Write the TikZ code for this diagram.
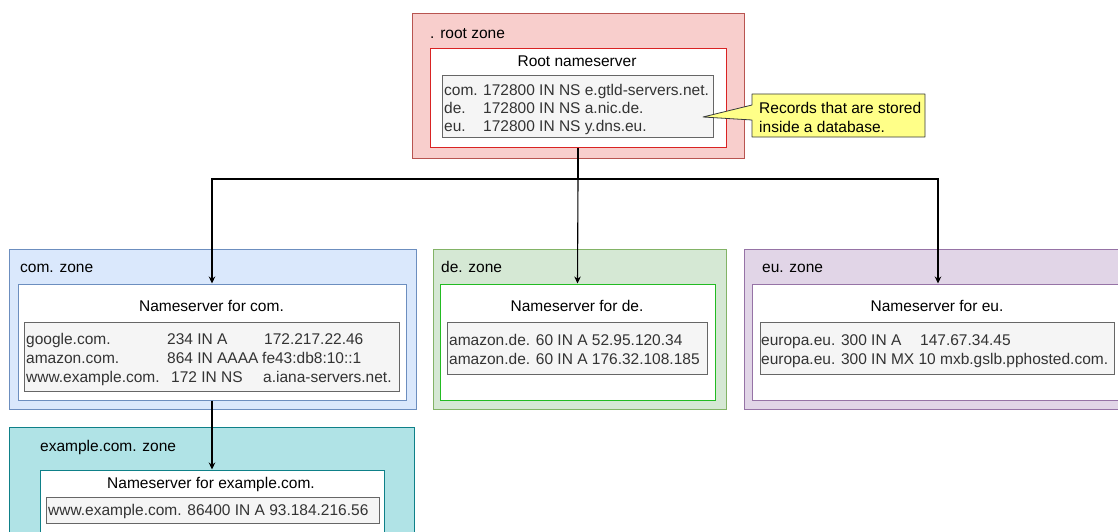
\documentclass[tikz,border=0pt]{standalone}
\usepackage{fontspec}
\setmainfont{Liberation Sans}
\usetikzlibrary{arrows.meta}
\definecolor{rootfill}{HTML}{F8CECC}
\definecolor{rootline}{HTML}{B85450}
\definecolor{rootns}{HTML}{D92323}
\definecolor{comfill}{HTML}{DAE8FC}
\definecolor{comline}{HTML}{6C8EBF}
\definecolor{defill}{HTML}{D5E8D4}
\definecolor{deline}{HTML}{82B366}
\definecolor{dens}{HTML}{22BB22}
\definecolor{eufill}{HTML}{E1D5E7}
\definecolor{euline}{HTML}{9673A6}
\definecolor{exfill}{HTML}{B0E3E6}
\definecolor{exline}{HTML}{0E8088}
\definecolor{recfill}{HTML}{F5F5F5}
\definecolor{recline}{HTML}{666666}
\definecolor{rectext}{HTML}{333333}
\definecolor{notefill}{HTML}{FFFF88}
\definecolor{noteline}{HTML}{36393D}
\begin{document}
\begin{tikzpicture}[x=1pt,y=-1pt,
  box/.style={draw, rectangle, inner sep=0pt, line width=1pt},
  txt/.style={inner sep=0pt, font=\fontsize{15.5}{18.6}\selectfont},
  rec/.style={txt, text=rectext, anchor=base west},
  lbl/.style={txt, anchor=base west},
  ttl/.style={txt, anchor=base},
  arr/.style={line width=1.1pt, -{Stealth[length=7pt,width=6.5pt]}},
  conn/.style={line width=1.1pt}]
\useasboundingbox (0,0) rectangle (1118,532);
\clip (0,0) rectangle (1118,532);
% root zone
\node[box, draw=rootline, fill=rootfill, minimum width=332pt, minimum height=144pt] (rootzone) at (578,86) {};
\node[lbl] (rootlbl) at (430,38.5) {. root zone};
\node[box, draw=rootns, fill=white, minimum width=296pt, minimum height=98pt] (rootns) at (578,98) {};
\node[ttl] (roottitle) at (577,67) {Root nameserver};
\node[box, draw=recline, fill=recfill, minimum width=271pt, minimum height=61pt] (rootrec) at (577.5,106.5) {};
\node[rec] (r1a) at (444,95.5) {com.};
\node[rec] (r1b) at (483,95.5) {172800 IN NS e.gtld-servers.net.};
\node[rec] (r2a) at (444,113.5) {de.};
\node[rec] (r2b) at (483,113.5) {172800 IN NS a.nic.de.};
\node[rec] (r3a) at (444,131.5) {eu.};
\node[rec] (r3b) at (483,131.5) {172800 IN NS y.dns.eu.};
% callout
\draw[draw=noteline, fill=notefill, line width=0.8pt, line join=round]
  (752,94) -- (925,94) -- (925,137) -- (752,137) -- (752,120) -- (703,117) -- (752,105) -- cycle;
\node[lbl] (note1) at (759,113.5) {Records that are stored};
\node[lbl] (note2) at (759,132.5) {inside a database.};
% com zone
\node[box, draw=comline, fill=comfill, minimum width=407pt, minimum height=160pt] (comzone) at (212.5,329) {};
\node[lbl] (comlbl) at (20,272) {com. zone};
\node[box, draw=comline, fill=white, minimum width=388pt, minimum height=116pt] (comns) at (212,342) {};
\node[ttl] (comtitle) at (211.5,311) {Nameserver for com.};
\node[box, draw=recline, fill=recfill, minimum width=375pt, minimum height=69pt] (comrec) at (211.5,356.5) {};
\node[rec] (c1a) at (26,344.5) {google.com.};
\node[rec] (c1b) at (167,344.5) {234 IN A};
\node[rec] (c1c) at (264,344.5) {172.217.22.46};
\node[rec] (c2a) at (26,363.5) {amazon.com.};
\node[rec] (c2b) at (167,363.5) {864 IN AAAA};
\node[rec] (c2c) at (262,363.5) {fe43:db8:10::1};
\node[rec] (c3a) at (26,382.5) {www.example.com.};
\node[rec] (c3b) at (171,382.5) {172 IN NS};
\node[rec] (c3c) at (263,382.5) {a.iana-servers.net.};
% de zone
\node[box, draw=deline, fill=defill, minimum width=293pt, minimum height=160pt] (dezone) at (579.5,329) {};
\node[lbl] (delbl) at (441,272) {de. zone};
\node[box, draw=dens, fill=white, minimum width=275pt, minimum height=116pt] (dens) at (577.5,342) {};
\node[ttl] (detitle) at (577,311) {Nameserver for de.};
\node[box, draw=recline, fill=recfill, minimum width=260pt, minimum height=52pt] (derec) at (577,348) {};
\node[rec] (d1) at (449,345) {amazon.de. 60 IN A 52.95.120.34};
\node[rec] (d2) at (449,364) {amazon.de. 60 IN A 176.32.108.185};
% eu zone
\node[box, draw=euline, fill=eufill, minimum width=388pt, minimum height=160pt] (euzone) at (938,329) {};
\node[lbl] (eulbl) at (762,272) {eu. zone};
\node[box, draw=euline, fill=white, minimum width=372pt, minimum height=116pt] (euns) at (938,342) {};
\node[ttl] (eutitle) at (937,311) {Nameserver for eu.};
\node[box, draw=recline, fill=recfill, minimum width=354pt, minimum height=52pt] (eurec) at (937,348) {};
\node[rec] (e1a) at (761,345) {europa.eu. 300 IN A};
\node[rec] (e1b) at (920,345) {147.67.34.45};
\node[rec] (e2) at (761,364) {europa.eu. 300 IN MX 10 mxb.gslb.pphosted.com.};
% example.com zone
\node[box, draw=exline, fill=exfill, minimum width=405pt, minimum height=123pt] (exzone) at (211.5,488.5) {};
\node[lbl] (exlbl) at (40,451) {example.com. zone};
\node[box, draw=exline, fill=white, minimum width=344pt, minimum height=75pt] (exns) at (212,507.5) {};
\node[ttl] (extitle) at (211,488) {Nameserver for example.com.};
\node[box, draw=recline, fill=recfill, minimum width=333pt, minimum height=26pt] (exrec) at (212.5,510) {};
\node[rec] (x1) at (48,515.5) {www.example.com. 86400 IN A 93.184.216.56};
% connectors
\coordinate (j) at (578,179);
\draw[conn] (rootns.south) -- (j);
\draw[arr] (j) -| (comns.north);
\draw[arr] (j) -- (dens.north);
\draw[arr] (j) -| (euns.north);
\draw[arr] (comns.south) -- (exns.north);
\end{tikzpicture}
\end{document}
